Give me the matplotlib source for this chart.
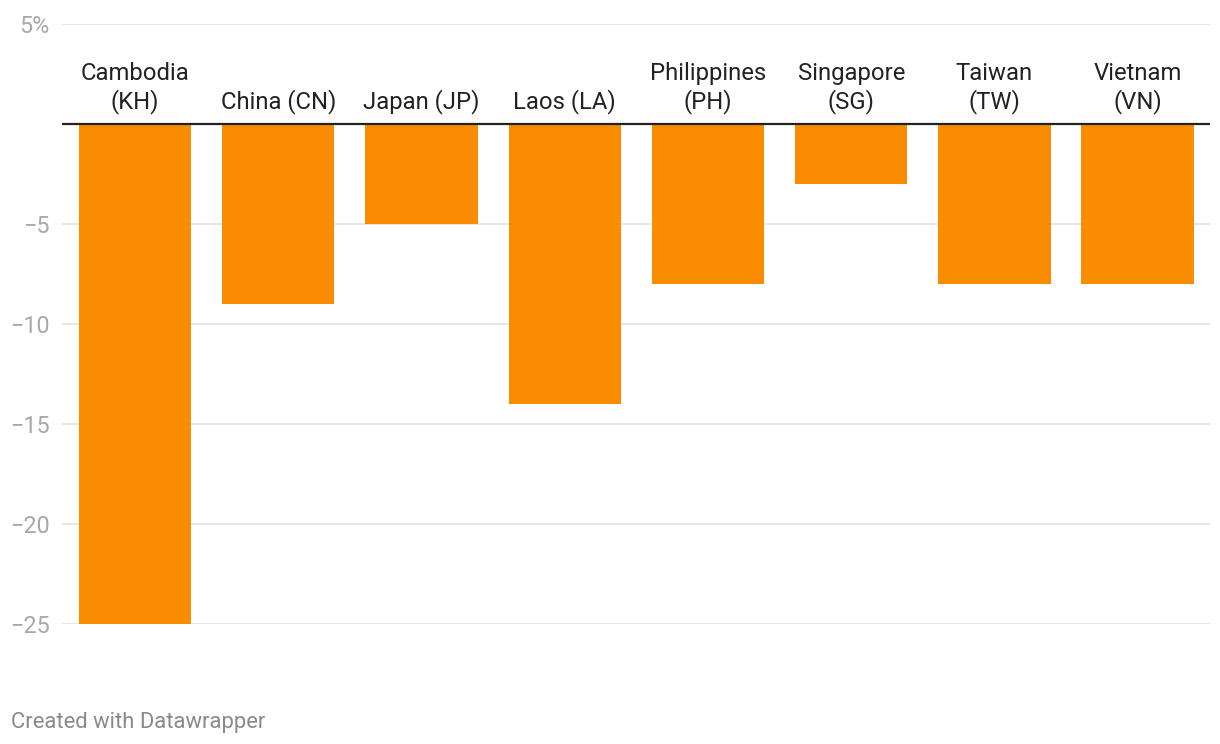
import matplotlib
matplotlib.use("Agg")
import matplotlib.pyplot as plt
from matplotlib.ticker import FixedLocator

plt.rcParams['font.family'] = ['Roboto', 'DejaVu Sans']

categories = ["Cambodia\n(KH)", "China (CN)", "Japan (JP)", "Laos (LA)",
              "Philippines\n(PH)", "Singapore\n(SG)", "Taiwan\n(TW)", "Vietnam\n(VN)"]
values = [-25, -9, -5, -14, -8, -3, -8, -8]
yticks = [5, 0, -5, -10, -15, -20, -25]
ytick_labels = ["5%", "", "\u22125", "\u221210", "\u221215", "\u221220", "\u221225"]

W, H = 1220, 744
fig = plt.figure(figsize=(W / 100, H / 100), dpi=100)
ax = fig.add_axes([62 / W, (H - 624) / H, (1210 - 62) / W, 600 / H])

x = list(range(len(categories)))
ax.bar(x, values, width=0.785, color="#f98c00", zorder=2)
ax.set_xlim(-0.51, 7.505)
ax.set_ylim(-25, 5)

for t in yticks:
    if t == 0:
        ax.axhline(0, color="#222222", lw=1.6, zorder=3)
    else:
        ax.axhline(t, color="#e5e5e5", lw=1.3, zorder=1)

ax.yaxis.set_major_locator(FixedLocator(yticks))
ax.set_yticklabels(ytick_labels)
ax.tick_params(axis='y', length=0, pad=9, labelsize=16.8, labelcolor="#a8a8a8")
ax.set_xticks([])
for s in ax.spines.values():
    s.set_visible(False)

for xi, lab in zip(x, categories):
    ax.annotate(lab, (xi, 0), xytext=(0, 7.5), textcoords="offset points",
                ha="center", va="bottom", multialignment="center",
                fontsize=17.2, color="#222222")

fig.text(11 / W, 1 - 728 / H, "Created with Datawrapper", fontsize=15.8,
         color="#8a8a8a", ha="left", va="baseline")

fig.savefig("out.png", dpi=100)
